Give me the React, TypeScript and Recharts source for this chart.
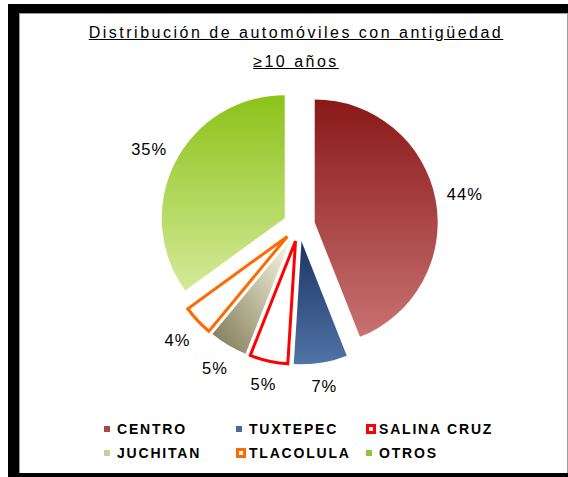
import { PieChart, Pie, Cell, Legend } from "recharts";

const CATEGORIES = ["CENTRO", "TUXTEPEC", "SALINA CRUZ", "JUCHITAN", "TLACOLULA", "OTROS"];
const SHARES = [44, 7, 5, 5, 4, 35];
const PCT_LABELS = ["44%", "7%", "5%", "5%", "4%", "35%"];

const FONT = '"Liberation Sans", Arial, sans-serif';
const W = 568;
const H = 477;
const CX = 299;
const CY = 225.5;
const RADIUS = 123;
const EXPLODE = 16;
const RAD = Math.PI / 180;

// per-slice look: gradient id or white fill with coloured outline
const FILLS = ["url(#gCentro)", "url(#gTux)", "#ffffff", "url(#gJuch)", "#ffffff", "url(#gOtros)"];
const STROKES = ["none", "none", "#ff0000", "none", "#ff6a00", "none"];
const LEGEND_SWATCH = ["#a84848", "#4a6898", "#ff0000", "#cfcb9c", "#ff6a00", "#8cc63f"];
const LEGEND_OUTLINE = [false, false, true, false, true, false];

const data = CATEGORIES.map((name, i) => ({ name, value: SHARES[i] }));
const total = SHARES.reduce((a, b) => a + b, 0);

// clockwise angle from 12 o'clock of each slice's middle
const midAngles = SHARES.map((v, i) => {
  const before = SHARES.slice(0, i).reduce((a, b) => a + b, 0);
  return ((before + v / 2) / total) * 360;
});

function sliceLabel(slice: number) {
  return (props: any) => {
    if (props.index !== slice) return null;
    const cos = Math.cos(-props.midAngle * RAD);
    const sin = Math.sin(-props.midAngle * RAD);
    // push the label box out a bit more where it sits beside the pie
    const r = props.outerRadius + 22 + 8 * Math.abs(cos);
    const x = props.cx + r * cos;
    const y = props.cy + r * sin;
    return (
      <text
        x={x}
        y={y}
        textAnchor="middle"
        dominantBaseline="central"
        fill="#000"
        fontSize={16.5}
        fontFamily={FONT}
        letterSpacing={1}
      >
        {PCT_LABELS[slice]}
      </text>
    );
  };
}

const COL_X = [104, 236, 366];

function LegendBox() {
  return (
    <div style={{ position: "relative", width: W, height: 48 }}>
      {CATEGORIES.map((name, i) => {
        const col = i % 3;
        const row = Math.floor(i / 3);
        const outline = LEGEND_OUTLINE[i];
        const size = outline ? 10 : 6;
        return (
          <div
            key={name}
            style={{
              position: "absolute",
              left: COL_X[col],
              top: row * 24,
              height: 20,
              display: "flex",
              alignItems: "center",
              whiteSpace: "nowrap",
            }}
          >
            <span
              style={{
                display: "inline-block",
                boxSizing: "border-box",
                width: size,
                height: size,
                background: outline ? "#fff" : LEGEND_SWATCH[i],
                border: outline ? `3px solid ${LEGEND_SWATCH[i]}` : "none",
                marginRight: outline ? 3 : 7,
              }}
            />
            <span
              style={{
                fontFamily: FONT,
                fontSize: 14,
                fontWeight: "bold",
                letterSpacing: 1.8,
                color: "#000",
              }}
            >
              {name}
            </span>
          </div>
        );
      })}
    </div>
  );
}

export default function App() {
  return (
    <div style={{ position: "fixed", left: 0, top: 0, width: W, height: H, background: "#fff" }}>
      <div style={{ position: "absolute", left: 8, top: 4, width: 560, height: 473, background: "#000" }} />
      <div
        style={{
          position: "absolute",
          left: 19,
          top: 13,
          width: 549,
          height: 460,
          boxSizing: "border-box",
          background: "#fff",
          borderLeft: "1px solid #999",
          borderTop: "1px solid #999",
          borderRight: "1px solid #999",
        }}
      />
      <div
        style={{
          position: "absolute",
          left: 0,
          top: 18,
          width: 592,
          textAlign: "center",
          fontFamily: FONT,
          fontSize: 16,
          lineHeight: "29px",
          letterSpacing: 2.5,
          textDecoration: "underline",
          color: "#000",
        }}
      >
        Distribución de automóviles con antigüedad
        <br />
        ≥10 años
      </div>
      <div style={{ position: "absolute", left: 0, top: 0 }}>
        <PieChart width={W} height={H} margin={{ top: 0, right: 0, bottom: 0, left: 0 }}>
          <defs>
            <linearGradient id="gCentro" x1="0" y1="0" x2="0" y2="1">
              <stop offset="0%" stopColor="#8a1818" />
              <stop offset="100%" stopColor="#c87272" />
            </linearGradient>
            <linearGradient id="gTux" x1="0" y1="0" x2="0" y2="1">
              <stop offset="0%" stopColor="#1c3562" />
              <stop offset="100%" stopColor="#5074a6" />
            </linearGradient>
            <linearGradient id="gJuch" x1="1" y1="0" x2="0" y2="1">
              <stop offset="0%" stopColor="#fbfbe4" />
              <stop offset="100%" stopColor="#7c7652" />
            </linearGradient>
            <linearGradient id="gOtros" x1="0" y1="0" x2="0" y2="1">
              <stop offset="0%" stopColor="#8cc21a" />
              <stop offset="100%" stopColor="#d4ea98" />
            </linearGradient>
          </defs>
          {CATEGORIES.map((name, slice) => (
            <Pie
              key={name}
              data={data}
              dataKey="value"
              nameKey="name"
              cx={CX + EXPLODE * Math.sin(midAngles[slice] * RAD)}
              cy={CY - EXPLODE * Math.cos(midAngles[slice] * RAD)}
              outerRadius={RADIUS}
              startAngle={90}
              endAngle={-270}
              labelLine={false}
              label={sliceLabel(slice)}
              isAnimationActive={false}
            >
              {data.map((d, j) => (
                <Cell
                  key={d.name}
                  fill={j === slice ? FILLS[j] : "none"}
                  stroke={j === slice ? STROKES[j] : "none"}
                  strokeWidth={3}
                  strokeLinejoin="miter"
                />
              ))}
            </Pie>
          ))}
          <Legend
            verticalAlign="bottom"
            content={() => <LegendBox />}
            wrapperStyle={{ position: "absolute", left: 0, top: 419, width: W, height: 48 }}
          />
        </PieChart>
      </div>
    </div>
  );
}
